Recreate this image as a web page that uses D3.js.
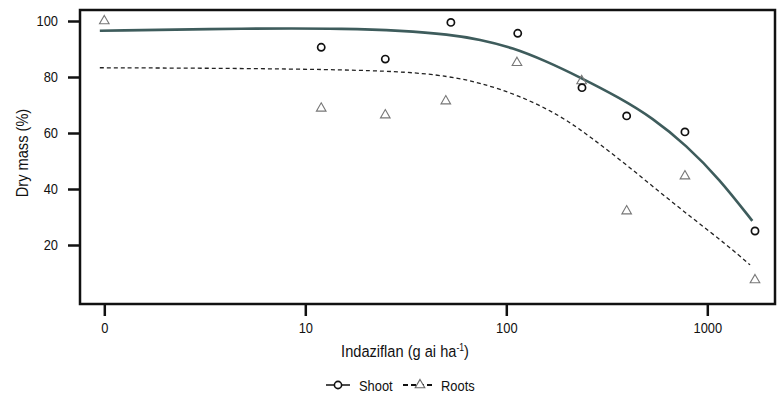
<!DOCTYPE html>
<html>
<head>
<meta charset="utf-8">
<script src="https://cdn.jsdelivr.net/npm/d3@7"></script>
<style>
  body { margin: 0; background: #fff; }
  text { font-family: "Liberation Sans", Arial, sans-serif; fill: #111; }
</style>
</head>
<body>
<div class="chart"></div>
<script>
// doses: 0 is drawn at the position of 1 on the log axis
var shootDose = [12, 25, 53, 114, 238, 397, 774, 1727];
var shootMass = [90.6, 86.4, 99.5, 95.6, 76.2, 66.1, 60.4, 25.0];

var rootsDose = [0, 12, 25, 50, 113, 237, 397, 774, 1727];
var rootsMass = [100, 68.8, 66.4, 71.4, 85.1, 78.6, 32.1, 44.6, 7.5];

// fitted curves
var shootFitDose = [0.95, 5.3, 16.6, 29.5, 52.3, 73.7, 107.5, 158.6, 231, 366, 534, 787, 1148, 1675];
var shootFitMass = [96.5, 97.4, 97.3, 96.6, 95.2, 93.4, 90.5, 85.6, 80.0, 72.6, 65.4, 55.6, 43.6, 28.6];
var rootsFitDose = [0.95, 5.3, 29.5, 52.3, 73.7, 115, 185, 269, 397, 581, 853, 1252, 1633];
var rootsFitMass = [83.3, 83.1, 82.3, 80.2, 78.0, 73.5, 66.4, 58.0, 48.6, 38.8, 29.3, 20.0, 12.9];

var xTicks = [1, 10, 100, 1000];
var xTickLabels = ["0", "10", "100", "1000"];
var yTicks = [20, 40, 60, 80, 100];

var margin = { top: 10, right: 9, bottom: 93, left: 80 };
var width = 784 - margin.left - margin.right;
var height = 397 - margin.top - margin.bottom;
var sx = 0.86; // the original font is narrow

var svg = d3.select('.chart')
    .append('svg')
    .attr('width', 784)
    .attr('height', 397)
    .append('g')
    .attr('transform', `translate(${margin.left}, ${margin.top})`);

var xScale = d3.scaleLog()
    .domain([1, 1000])
    .range([24.3, 627.3]);

var yScale = d3.scaleLinear()
    .domain([0, 100])
    .range([291, 11]);

function dx(d) { return xScale(d === 0 ? 1 : d); }

var xAxis = d3.axisBottom(xScale)
    .tickValues(xTicks)
    .tickFormat(function(d, i) { return xTickLabels[i]; })
    .tickSize(12)
    .tickPadding(6);

var yAxis = d3.axisLeft(yScale)
    .tickValues(yTicks)
    .tickSize(12)
    .tickPadding(10);

var gx = svg.append('g')
    .attr('transform', 'translate(0,' + height + ')')
    .call(xAxis);
var gy = svg.append('g').call(yAxis);

[gx, gy].forEach(function(g) {
  g.select('.domain').remove();
  g.selectAll('.tick line').attr('stroke', '#111').attr('stroke-width', 2.5);
  g.selectAll('.tick text').style('font-size', '15px').attr('fill', '#111')
      .attr('transform', 'scale(' + sx + ',1)');
});
gy.selectAll('.tick text').attr('x', -22 / sx);

svg.append('rect')
    .attr('width', width)
    .attr('height', height)
    .style('fill', 'none')
    .style('stroke', '#111')
    .style('stroke-width', 2.5);

// curves
var line = d3.line()
    .x(function(d) { return xScale(d[0]); })
    .y(function(d) { return yScale(d[1]); })
    .curve(d3.curveBasis);

svg.append('path')
    .datum(rootsFitDose.map(function(d, i) { return [d, rootsFitMass[i]]; }))
    .attr('d', line)
    .style('fill', 'none')
    .style('stroke', '#222')
    .style('stroke-width', 1.3)
    .style('stroke-dasharray', '4,3');

svg.append('path')
    .datum(shootFitDose.map(function(d, i) { return [d, shootFitMass[i]]; }))
    .attr('d', line)
    .style('fill', 'none')
    .style('stroke', '#3e5c5c')
    .style('stroke-width', 2.6);

// points
var tri = d3.symbol().type(d3.symbolTriangle).size(40);

svg.selectAll('.tri')
    .data(rootsDose)
    .enter().append('path')
    .attr('class', 'tri')
    .attr('d', tri)
    .attr('transform', function(d, i) { return 'translate(' + dx(d) + ',' + yScale(rootsMass[i]) + ')'; })
    .style('fill', 'none')
    .style('stroke', '#777')
    .style('stroke-width', 1.1);

svg.selectAll('.dot')
    .data(shootDose)
    .enter().append('circle')
    .attr('class', 'dot')
    .attr('cx', function(d) { return dx(d); })
    .attr('cy', function(d, i) { return yScale(shootMass[i]); })
    .attr('r', 3.6)
    .style('fill', 'none')
    .style('stroke', '#111')
    .style('stroke-width', 1.7);

// axis titles
var xt = svg.append('text')
    .attr('x', 325 / sx)
    .attr('y', 347)
    .attr('transform', 'scale(' + sx + ',1)')
    .attr('text-anchor', 'middle')
    .style('font-size', '17px');
xt.append('tspan').text('Indaziflan (g ai ha');
xt.append('tspan').attr('dy', -6).style('font-size', '10px').text('-1');
xt.append('tspan').attr('dy', 6).text(')');

svg.append('text')
    .attr('transform', 'translate(-52,143) rotate(-90) scale(' + sx + ',1)')
    .attr('text-anchor', 'middle')
    .style('font-size', '17px')
    .text('Dry mass (%)');

// legend
var lg = svg.append('g').attr('transform', 'translate(0,375)');
lg.append('line')
    .attr('x1', 246).attr('x2', 270)
    .style('stroke', '#111').style('stroke-width', 1.5);
lg.append('circle')
    .attr('cx', 258).attr('r', 3.6)
    .style('fill', '#fff').style('stroke', '#111').style('stroke-width', 1.6);
lg.append('text')
    .attr('x', 279 / sx).attr('y', 5.5)
    .attr('transform', 'scale(' + sx + ',1)')
    .style('font-size', '15px')
    .text('Shoot');
lg.append('line')
    .attr('x1', 323).attr('x2', 354)
    .style('stroke', '#111').style('stroke-width', 2.2)
    .style('stroke-dasharray', '5,3');
lg.append('path')
    .attr('d', tri)
    .attr('transform', 'translate(340,0)')
    .style('fill', '#fff').style('stroke', '#666').style('stroke-width', 1.1);
lg.append('text')
    .attr('x', 361 / sx).attr('y', 5.5)
    .attr('transform', 'scale(' + sx + ',1)')
    .style('font-size', '15px')
    .text('Roots');
</script>
</body>
</html>
